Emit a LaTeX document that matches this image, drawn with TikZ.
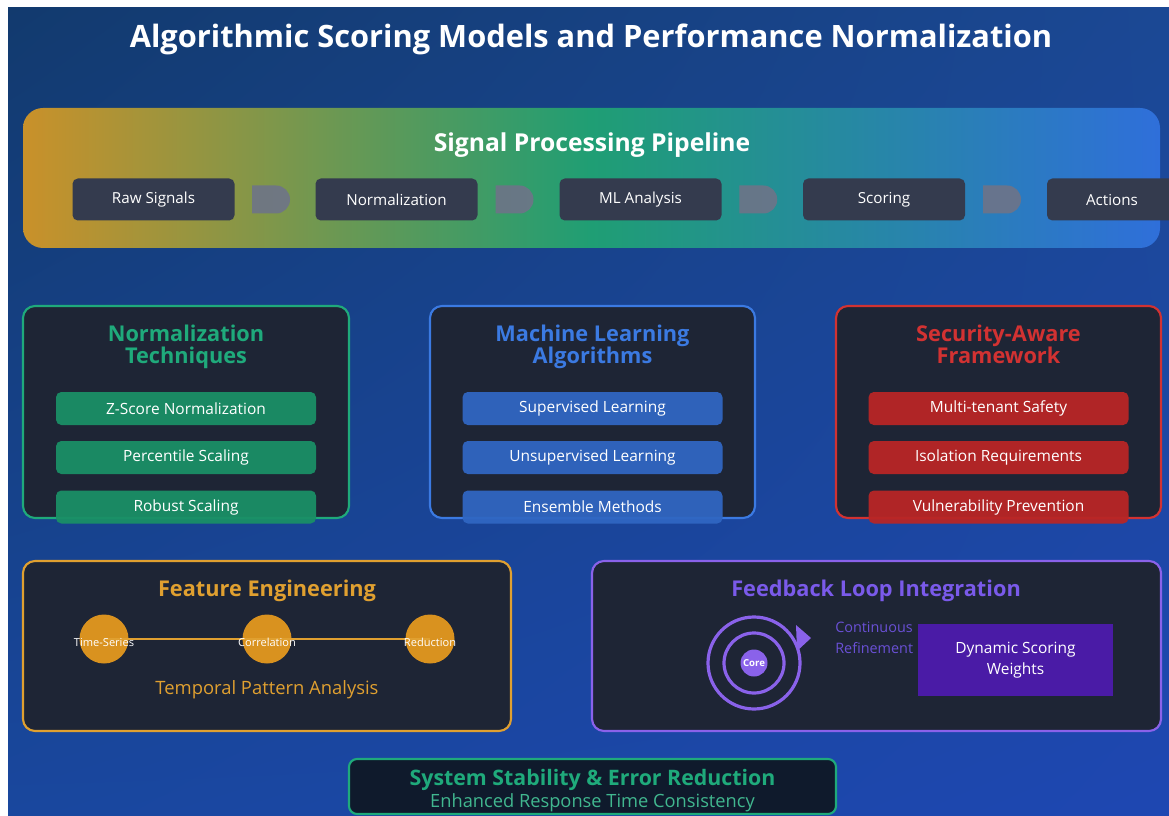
\documentclass[tikz,border=0pt]{standalone}
\usepackage{fontspec}
\setmainfont{Open Sans}
\usetikzlibrary{calc,shadings}

% palette
\definecolor{bgUL}{HTML}{123A6E}
\definecolor{bgUR}{HTML}{1B4894}
\definecolor{bgLL}{HTML}{19479E}
\definecolor{bgLR}{HTML}{1E47B2}
\definecolor{pipeOrange}{HTML}{C9912A}
\definecolor{pipeGreen}{HTML}{1F9E74}
\definecolor{pipeBlue}{HTML}{2F6FDA}
\definecolor{stepFill}{HTML}{343B4E}
\definecolor{arrowFill}{HTML}{6E7488}
\definecolor{panelFill}{HTML}{1E2535}
\definecolor{greenLine}{HTML}{1FAA7B}
\definecolor{greenItem}{HTML}{1A8F66}
\definecolor{blueLine}{HTML}{3B7AE2}
\definecolor{blueItem}{HTML}{3066C2}
\definecolor{redLine}{HTML}{D23232}
\definecolor{redItem}{HTML}{B82626}
\definecolor{orangeLine}{HTML}{E0A030}
\definecolor{orangeDot}{HTML}{D9921F}
\definecolor{purpleLine}{HTML}{8A62EA}
\definecolor{purpleText}{HTML}{7A5AEA}
\definecolor{purpleDim}{HTML}{6A50D6}
\definecolor{purpleBox}{HTML}{4A1BA6}
\definecolor{baseFill}{HTML}{0F1A2C}

\def\u{0.75pt}

\tikzset{
  stepbox/.style={fill=stepFill, rounded corners=4pt, text=white,
    minimum width=162*\u, minimum height=42*\u, font=\fontsize{11.4}{13}\selectfont},
  panel/.style={fill=panelFill, line width=1.6pt, rounded corners=9pt},
  ptitle/.style={font=\fontsize{16.3}{16.5}\selectfont\bfseries, anchor=base, inner sep=0pt},
  item/.style={rounded corners=4pt, text=white, minimum width=260*\u,
    minimum height=33*\u, font=\fontsize{11.6}{13}\selectfont, opacity=0.95, text opacity=1},
  dot/.style={circle, fill=orangeDot, minimum size=49*\u, inner sep=0pt},
  dotlabel/.style={text=white, font=\fontsize{8.3}{9}\selectfont},
}

\begin{document}
\begin{tikzpicture}[x=0.75pt, y=-0.75pt]
\useasboundingbox (0,0) rectangle (1169,816);
\fill[white] (0,0) rectangle (1169,816);

% backdrop
\shade[upper left=bgUL, upper right=bgUR, lower left=bgLL, lower right=bgLR]
  (8,8) rectangle (1169,816);

\node[text=white, font=\fontsize{23.1}{26}\selectfont\bfseries] (title) at (591,39)
  {Algorithmic Scoring Models and Performance Normalization};

% ---------- signal pipeline ----------
\shade[rounded corners=15pt, left color=pipeOrange, right color=pipeBlue, middle color=pipeGreen]
  (23,108) rectangle (1160,248);
\node[text=white, font=\fontsize{18.5}{20}\selectfont\bfseries] (pipetitle) at (592,145)
  {Signal Processing Pipeline};

\node[stepbox] (raw) at (153.5,199.5) {Raw Signals};
\node[stepbox] (norm) at (396.5,199.5) {Normalization};
\node[stepbox] (mla) at (640.5,199.5) {ML Analysis};
\node[stepbox] (score) at (884,199.5) {Scoring};
\node[stepbox, minimum width=130*\u] (act) at (1112,199.5) {Actions};

\foreach \a/\b in {raw/norm, norm/mla, mla/score, score/act}{
  \path ($(\a.east)!0.5!(\b.west)$) coordinate (m);
  \fill[arrowFill, opacity=0.9] ($(m)+(-23,-14)$) -- ++(24,0)
    arc[start angle=-90, end angle=90, radius=14] -- ++(-24,0) -- cycle;
}

% ---------- three technique panels ----------
\draw[panel, draw=greenLine] (23,306) rectangle (349,518);
\node[ptitle, text=greenLine] (ntitleA) at (186,341) {Normalization};
\node[ptitle, text=greenLine] (ntitleB) at (186,363) {Techniques};
\node[item, fill=greenItem] (z) at (186,408.5) {Z-Score Normalization};
\node[item, fill=greenItem] (pc) at (186,457.5) {Percentile Scaling};
\node[item, fill=greenItem] (rb) at (186,507) {Robust Scaling};

\draw[panel, draw=blueLine] (430,306) rectangle (755,518);
\node[ptitle, text=blueLine] (mtitleA) at (592.5,341) {Machine Learning};
\node[ptitle, text=blueLine] (mtitleB) at (592.5,363) {Algorithms};
\node[item, fill=blueItem] (sup) at (592.5,408.5) {Supervised Learning};
\node[item, fill=blueItem] (uns) at (592.5,457.5) {Unsupervised Learning};
\node[item, fill=blueItem] (ens) at (592.5,507) {Ensemble Methods};

\draw[panel, draw=redLine] (836,306) rectangle (1161,518);
\node[ptitle, text=redLine] (stitleA) at (998.5,341) {Security-Aware};
\node[ptitle, text=redLine] (stitleB) at (998.5,363) {Framework};
\node[item, fill=redItem] (mt) at (998.5,408.5) {Multi-tenant Safety};
\node[item, fill=redItem] (iso) at (998.5,457.5) {Isolation Requirements};
\node[item, fill=redItem] (vul) at (998.5,507) {Vulnerability Prevention};

% ---------- feature engineering ----------
\draw[panel, draw=orangeLine] (23,561) rectangle (511,731);
\node[text=orangeLine, font=\fontsize{16.3}{18}\selectfont\bfseries] (ftitle) at (267,591)
  {Feature Engineering};
\node[dot] (ts) at (104,639) {};
\node[dot] (co) at (267,639) {};
\node[dot] (rd) at (430,639) {};
\draw[orangeLine, line width=1.5pt] (ts.center) -- (co.center) -- (rd.center);
\node[dotlabel] at ($(ts.center)+(0,3)$) {Time-Series};
\node[dotlabel] at ($(co.center)+(0,3)$) {Correlation};
\node[dotlabel] at ($(rd.center)+(0,3)$) {Reduction};
\node[text=orangeLine, font=\fontsize{13.8}{15}\selectfont] (tpa) at (267,690)
  {Temporal Pattern Analysis};

% ---------- feedback loop ----------
\draw[panel, draw=purpleLine] (592,561) rectangle (1161,731);
\node[text=purpleText, font=\fontsize{16.3}{18}\selectfont\bfseries] (fbtitle) at (876,591)
  {Feedback Loop Integration};
\coordinate (ring) at (754,663);
\draw[purpleLine, line width=2.4pt] (ring) circle[radius=46];
\draw[purpleLine, line width=2.4pt] (ring) circle[radius=30];
\node[circle, fill=purpleLine, minimum size=27*\u, inner sep=0pt, text=white,
  font=\fontsize{7.2}{8}\selectfont\bfseries] (core) at (ring) {Core};
\fill[purpleLine] (796,625) -- (811,638) -- (797,651) -- cycle;
\node[text=purpleDim, font=\fontsize{10.8}{15.75}\selectfont, align=left, anchor=north west,
  inner sep=0pt] (cr) at (835,622) {Continuous\\Refinement};
\node[fill=purpleBox, minimum width=195*\u, minimum height=72*\u, text=white, align=center,
  font=\fontsize{11.6}{15.75}\selectfont] (dsw) at (1015.5,660) {Dynamic Scoring\\Weights};

% ---------- stability footer ----------
\draw[fill=baseFill, draw=greenLine, line width=1.6pt, rounded corners=6pt]
  (349,759) rectangle (836,814);
\node[text=greenLine, font=\fontsize{16}{18}\selectfont\bfseries] (stab) at (592.5,780)
  {System Stability \& Error Reduction};
\node[text=greenLine!85!white, font=\fontsize{13.7}{15}\selectfont] (resp) at (592.5,803)
  {Enhanced Response Time Consistency};
\end{tikzpicture}
\end{document}
